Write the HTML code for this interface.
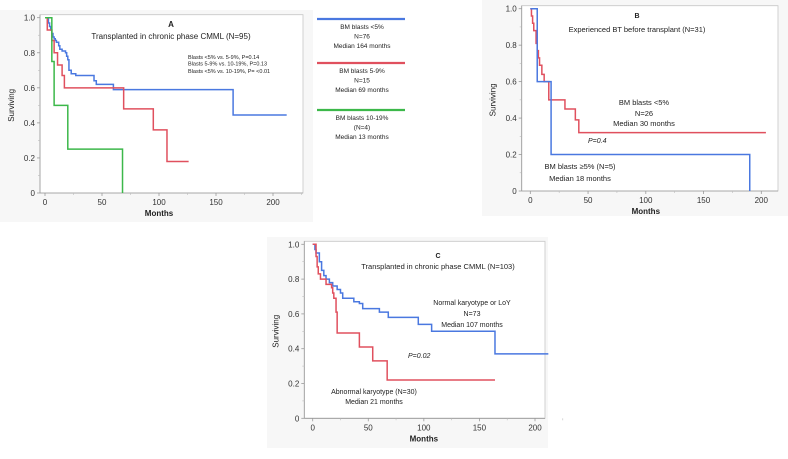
<!DOCTYPE html>
<html><head><meta charset="utf-8"><style>
body{margin:0;background:#fff;width:788px;height:454px;overflow:hidden}
svg{font-family:"Liberation Sans",sans-serif}
</style></head><body>
<svg id="s" width="788" height="454">
<rect x="0" y="10" width="313" height="212" fill="#f7f7f7"/>
<rect x="482" y="0" width="306" height="216" fill="#f7f7f7"/>
<rect x="267" y="237" width="281" height="211" fill="#f7f7f7"/>
</svg>
<script>
// Panel A data
const aBlueT=[0,3,4,5,6,7,8,9,10,12,13,15,18,19,20,21,23,27,43,45,60,165,212];
const aBlueS=[1,0.97,0.95,0.93,0.91,0.89,0.88,0.87,0.86,0.84,0.82,0.81,0.80,0.78,0.76,0.70,0.68,0.67,0.64,0.62,0.59,0.445,0.445];
const aRedT=[0,2,6,8,11,15,17,69,95,107,126];
const aRedS=[1,0.93,0.87,0.80,0.73,0.67,0.60,0.48,0.36,0.18,0.18];
const aGreenT=[0,6,8,20,68,68];
const aGreenS=[1,0.75,0.50,0.25,0,0];
// Panel B data
const bRedT=[0,1,2,3,5,6,7,8,10,12,16,30,39,42,204];
const bRedS=[1,0.96,0.92,0.88,0.81,0.77,0.73,0.69,0.64,0.60,0.50,0.45,0.39,0.32,0.32];
const bBlueT=[0,6,18,190,190];
const bBlueS=[1,0.60,0.20,0,0];
// Panel C data
const cBlueT=[0,2,3,6,8,10,12,15,18,22,25,27,37,42,45,60,68,95,107,164,212];
const cBlueS=[1,0.97,0.95,0.90,0.85,0.82,0.80,0.78,0.76,0.74,0.72,0.69,0.67,0.66,0.63,0.61,0.58,0.54,0.50,0.37,0.37];
const cRedT=[0,3,4,5,7,12,17,18,19,21,22,42,54,67,164];
const cRedS=[1,0.93,0.87,0.83,0.80,0.77,0.75,0.72,0.69,0.61,0.49,0.41,0.33,0.22,0.22];
const xTicks=[0,50,100,150,200];
const yTicks=[0,0.2,0.4,0.6,0.8,1.0];
const yTickLabels=["0","0.2","0.4","0.6","0.8","1.0"];

const svg=document.getElementById('s');
const NS="http://www.w3.org/2000/svg";
function mk(tag,attrs,txt){const e=document.createElementNS(NS,tag);for(const k in attrs)e.setAttribute(k,attrs[k]);if(txt!==undefined)e.textContent=txt;svg.appendChild(e);return e;}

function panel(p,id){
  const X=t=>p.x0+t*(p.x200-p.x0)/200, Y=s=>p.y0-s*(p.y0-p.y1);
  let e=mk('path',{d:`M${p.ax},${p.y1-3}H${p.right}V${p.y0}H${p.ax}Z`,fill:'#fff',stroke:'#c8c8c8','stroke-width':0.8});
  
  
  e=mk('line',{x1:p.ax,x2:p.ax,y1:p.y1-3,y2:p.y0,stroke:'#999','stroke-width':0.8});
  
  
  e=mk('line',{x1:p.ax,x2:p.right,y1:p.y0,y2:p.y0,stroke:'#999','stroke-width':0.8});
  
  
  yTicks.forEach((v,i)=>{
    mk('line',{x1:p.ax-3,x2:p.ax,y1:Y(v),y2:Y(v),stroke:'#999','stroke-width':0.8});
    if(i<5)mk('line',{x1:p.ax-2,x2:p.ax,y1:Y(v+0.1),y2:Y(v+0.1),stroke:'#bbb','stroke-width':0.6});
    e=mk('text',{x:p.ax-5,y:Y(v)+3,'font-size':8,'text-anchor':'end',fill:'#333'},yTickLabels[i]);
    
    
  });
  xTicks.forEach((v,i)=>{
    mk('line',{x1:X(v),x2:X(v),y1:p.y0,y2:p.y0+3,stroke:'#999','stroke-width':0.8});
    mk('line',{x1:X(v+25),x2:X(v+25),y1:p.y0,y2:p.y0+2,stroke:'#bbb','stroke-width':0.6});
    e=mk('text',{x:X(v),y:p.y0+12,'font-size':8,'text-anchor':'middle',fill:'#333'},String(v));
    
    
  });
  e=mk('text',{x:(X(0)+X(200))/2,y:p.y0+23,'font-size':8,'font-weight':'bold','text-anchor':'middle',fill:'#222'},'Months');
  
  
  const yc=(p.y0+p.y1)/2;
  e=mk('text',{x:p.ax-26,y:yc,'font-size':8,'text-anchor':'middle',fill:'#222',transform:`rotate(-90 ${p.ax-26} ${yc})`},'Surviving');
  
  
  p.series.forEach(sr=>{
    let d=`M${X(sr.t[0])},${Y(sr.s[0])}`;
    for(let i=1;i<sr.t.length;i++){d+=`H${X(sr.t[i])}V${Y(sr.s[i])}`;}
    e=mk('path',{d:d,fill:'none',stroke:sr.c,'stroke-width':1.5});
    
    
  });
}
const BLUE='#4a78e0',RED='#e0505e',GREEN='#3cb84a';
panel({ax:40,x0:45,x200:273,y0:193,y1:17.7,right:303,series:[
 {t:aBlueT,s:aBlueS,c:BLUE,n:'panel-a-blasts-lt5-curve'},
 {t:aRedT,s:aRedS,c:RED,n:'panel-a-blasts-5-9-curve'},
 {t:aGreenT,s:aGreenS,c:GREEN,n:'panel-a-blasts-10-19-curve'}]},'panel-a');
panel({ax:521.7,x0:530.3,x200:761.3,y0:191,y1:8.7,right:778,series:[
 {t:bRedT,s:bRedS,c:RED,n:'panel-b-blasts-lt5-curve'},
 {t:bBlueT,s:bBlueS,c:BLUE,n:'panel-b-blasts-ge5-curve'}]},'panel-b');
panel({ax:304.3,x0:312.7,x200:535,y0:418.3,y1:244.3,right:545,series:[
 {t:cBlueT,s:cBlueS,c:BLUE,n:'panel-c-normal-karyotype-curve'},
 {t:cRedT,s:cRedS,c:RED,n:'panel-c-abnormal-karyotype-curve'}]},'panel-c');

function txt(x,y,s,str,name,extra){const e=mk('text',Object.assign({x:x,y:y,'font-size':s,'text-anchor':'middle',fill:'#222'},extra||{}),str);

return e;}
txt(171,27,8,'A','panel-a-letter',{'font-weight':'bold'});
txt(171,39,8,'Transplanted in chronic phase CMML (N=95)','panel-a-title');
txt(188,59,5.5,'Blasts <5% vs. 5-9%, P=0.14','panel-a-pvalue-1',{'text-anchor':'start'});
txt(188,65.5,5.5,'Blasts 5-9% vs. 10-19%, P=0.13','panel-a-pvalue-2',{'text-anchor':'start'});
txt(188,73,5.5,'Blasts <5% vs. 10-19%, P= <0.01','panel-a-pvalue-3',{'text-anchor':'start'});
// legend A
[[19,BLUE,['BM blasts <5%','N=76','Median 164 months'],'legend-blasts-lt5'],
 [63,RED,['BM blasts 5-9%','N=15','Median 69 months'],'legend-blasts-5-9'],
 [110,GREEN,['BM blasts 10-19%','(N=4)','Median 13 months'],'legend-blasts-10-19']].forEach(l=>{
  let e=mk('line',{x1:317,x2:405,y1:l[0],y2:l[0],stroke:l[1],'stroke-width':2.2});
  
  
  l[2].forEach((s,i)=>txt(362,l[0]+10+i*9.5,6.5,s,l[3]+'-text'));
});
txt(637,18,7,'B','panel-b-letter',{'font-weight':'bold'});
txt(637,32,7.5,'Experienced BT before transplant (N=31)','panel-b-title');
txt(644,105,7.5,'BM blasts <5%','panel-b-label-lt5');
txt(644,116,7.5,'N=26','panel-b-label-lt5-n');
txt(644,126,7.5,'Median 30 months','panel-b-label-lt5-median');
txt(588,143,7,'P=0.4','panel-b-pvalue',{'text-anchor':'start','font-style':'italic'});
txt(580,169,7.5,'BM blasts ≥5% (N=5)','panel-b-label-ge5');
txt(580,181,7.5,'Median 18 months','panel-b-label-ge5-median');
txt(438,258,7,'C','panel-c-letter',{'font-weight':'bold'});
txt(438,269,7.5,'Transplanted in chronic phase CMML (N=103)','panel-c-title');
txt(472,305,7,'Normal karyotype or LoY','panel-c-label-normal');
txt(472,316,7,'N=73','panel-c-label-normal-n');
txt(472,327,7,'Median 107 months','panel-c-label-normal-median');
txt(408,358,7,'P=0.02','panel-c-pvalue',{'text-anchor':'start','font-style':'italic'});
txt(374,394,7,'Abnormal karyotype (N=30)','panel-c-label-abnormal');
txt(374,404,7,'Median 21 months','panel-c-label-abnormal-median');
</script>
</body></html>
